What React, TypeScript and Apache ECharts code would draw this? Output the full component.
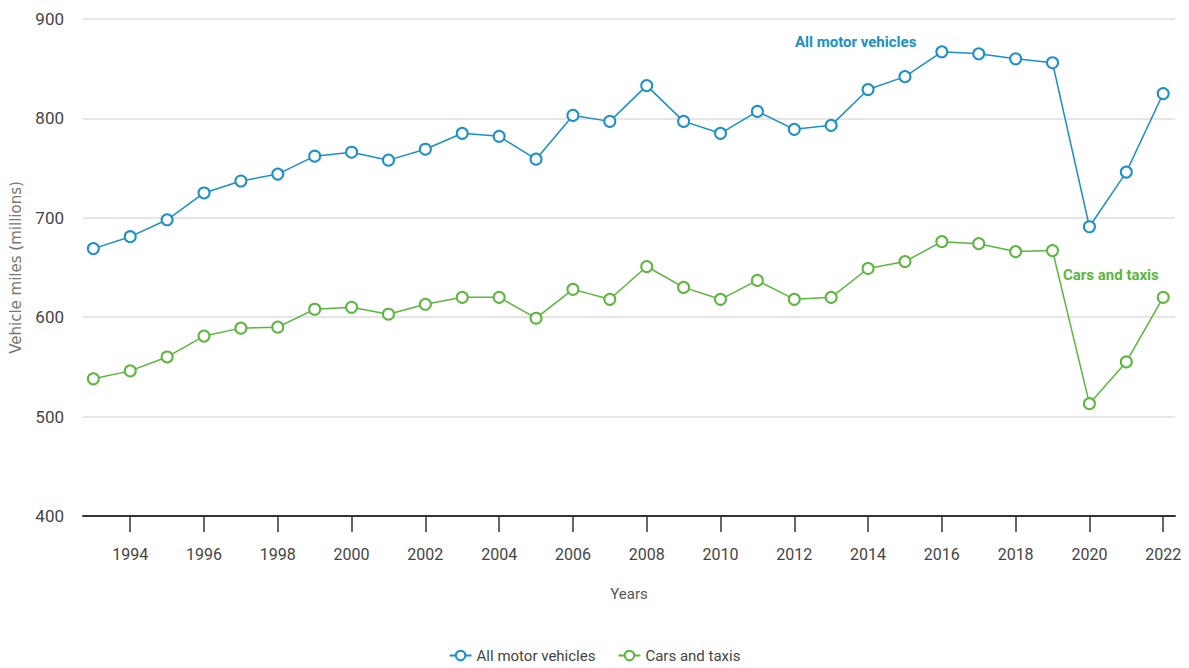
import React, { useEffect, useRef } from "react";
import * as echarts from "echarts";

const years = [1993, 1994, 1995, 1996, 1997, 1998, 1999, 2000, 2001, 2002, 2003, 2004, 2005, 2006, 2007, 2008, 2009, 2010, 2011, 2012, 2013, 2014, 2015, 2016, 2017, 2018, 2019, 2020, 2021, 2022];
const allMotorVehicles = [669, 681, 698, 725, 737, 744, 762, 766, 758, 769, 785, 782, 759, 803, 797, 833, 797, 785, 807, 789, 793, 829, 842, 867, 865, 860, 856, 691, 746, 825];
const carsAndTaxis = [538, 546, 560, 581, 589, 590, 608, 610, 603, 613, 620, 620, 599, 628, 618, 651, 630, 618, 637, 618, 620, 649, 656, 676, 674, 666, 667, 513, 555, 620];
const xTickYears = [1994, 1996, 1998, 2000, 2002, 2004, 2006, 2008, 2010, 2012, 2014, 2016, 2018, 2020, 2022];
const yTicks = [400, 500, 600, 700, 800, 900];

const BLUE = "#1a8fc9";
const GREEN = "#5ab63c";
const FONT = "Roboto, 'Liberation Sans Narrow', sans-serif";

export default function App() {
  const ref = useRef<HTMLDivElement>(null);
  useEffect(() => {
    if (!ref.current) return;
    const chart = echarts.init(ref.current, undefined, { renderer: "svg" });
    chart.setOption({
      animation: false,
      backgroundColor: "#ffffff",
      textStyle: { fontFamily: FONT },
      grid: { left: 82, right: 14, top: 19, bottom: 152 },
      legend: {
        bottom: 0,
        left: "center",
        itemGap: 22,
        itemWidth: 22,
        itemHeight: 12,
        textStyle: { color: "#444", fontSize: 15, fontFamily: FONT },
        data: ["All motor vehicles", "Cars and taxis"],
      },
      xAxis: {
        type: "value",
        min: 1992.72,
        max: 2022.32,
        name: "Years",
        nameLocation: "middle",
        nameGap: 70,
        nameTextStyle: { color: "#555", fontSize: 15, fontFamily: FONT },
        axisLine: { show: true, lineStyle: { color: "#333", width: 2 } },
        axisTick: { show: true, length: 16, customValues: xTickYears, lineStyle: { color: "#333", width: 1.5 } },
        axisLabel: {
          customValues: xTickYears,
          margin: 30,
          color: "#444",
          fontSize: 16,
          fontFamily: FONT,
          formatter: (v: number) => String(v),
        },
        splitLine: { show: false },
      },
      yAxis: {
        type: "value",
        min: 400,
        max: 900,
        interval: 100,
        name: "Vehicle miles (millions)",
        nameLocation: "middle",
        nameGap: 60,
        nameTextStyle: { color: "#777", fontSize: 15, fontFamily: "'DejaVu Sans', sans-serif" },
        axisLine: { show: false },
        axisTick: { show: false },
        axisLabel: {
          margin: 19,
          color: "#444",
          fontSize: 17,
          fontFamily: FONT,
          formatter: (v: number) => (yTicks.includes(v) ? String(v) : ""),
        },
        splitLine: { show: true, lineStyle: { color: "#e6e6e6", width: 2 } },
      },
      graphic: [
        {
          type: "text",
          left: 795,
          top: 34,
          style: { text: "All motor vehicles", fill: BLUE, font: `bold 15px ${FONT}` },
        },
        {
          type: "text",
          left: 1063,
          top: 267,
          style: { text: "Cars and taxis", fill: GREEN, font: `bold 15px ${FONT}` },
        },
      ],
      series: [
        {
          name: "All motor vehicles",
          type: "line",
          data: years.map((y, i) => [y, allMotorVehicles[i]]),
          symbol: "emptyCircle",
          symbolSize: 11,
          itemStyle: { color: BLUE, borderWidth: 3, borderColor: BLUE },
          lineStyle: { color: BLUE, width: 1.5 },
        },
        {
          name: "Cars and taxis",
          type: "line",
          data: years.map((y, i) => [y, carsAndTaxis[i]]),
          symbol: "emptyCircle",
          symbolSize: 11,
          itemStyle: { color: GREEN, borderWidth: 3, borderColor: GREEN },
          lineStyle: { color: GREEN, width: 1.5 },
        },
      ],
    });
    return () => chart.dispose();
  }, []);
  return <div ref={ref} style={{ width: 1189, height: 668, position: "absolute", left: 0, top: 0 }} />;
}
